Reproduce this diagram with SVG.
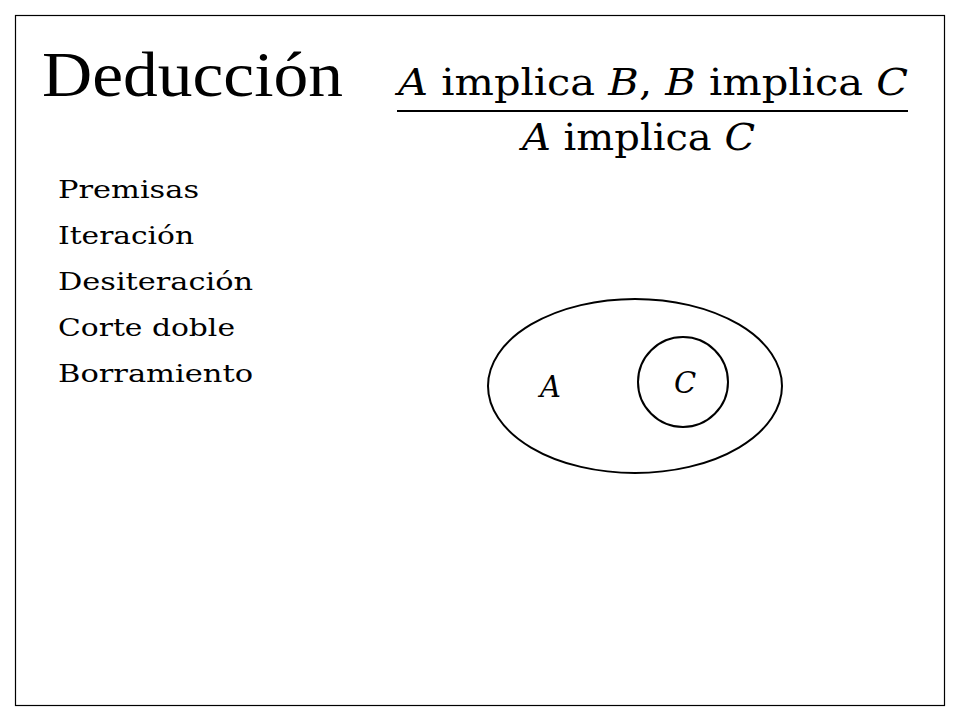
<svg xmlns="http://www.w3.org/2000/svg" width="960" height="720" viewBox="0 0 960 720">
<style>
text{font-family:"DejaVu Serif","Liberation Serif",serif;fill:#000}
.it{font-style:italic}
.list{font-size:24px}
.shape{fill:none;stroke:#000;stroke-width:2}
</style>
<rect x="0" y="0" width="960" height="720" fill="#fff"/>
<rect x="15.5" y="15.5" width="929" height="690" fill="none" stroke="#000" stroke-width="1.2"/>
<g id="title">
<text x="42" y="96" font-size="64" textLength="301" lengthAdjust="spacingAndGlyphs" style="font-family:'Liberation Serif','DejaVu Serif',serif">Deducción</text>
</g>
<g id="rule">
<text x="398" y="95" font-size="37" textLength="510" lengthAdjust="spacingAndGlyphs"><tspan class="it">A</tspan> implica <tspan class="it">B</tspan>, <tspan class="it">B</tspan> implica <tspan class="it">C</tspan></text>
<line x1="397" y1="111" x2="908" y2="111" stroke="#000" stroke-width="2"/>
<text x="522" y="150" font-size="37" textLength="233" lengthAdjust="spacingAndGlyphs"><tspan class="it">A</tspan> implica <tspan class="it">C</tspan></text>
</g>
<g id="list" class="list">
<text x="58" y="198" textLength="141" lengthAdjust="spacingAndGlyphs">Premisas</text>
<text x="58" y="244" textLength="136" lengthAdjust="spacingAndGlyphs">Iteración</text>
<text x="58" y="290" textLength="195" lengthAdjust="spacingAndGlyphs">Desiteración</text>
<text x="58" y="336" textLength="177" lengthAdjust="spacingAndGlyphs">Corte doble</text>
<text x="58" y="382" textLength="195" lengthAdjust="spacingAndGlyphs">Borramiento</text>
</g>
<g id="nodeA">
<ellipse class="shape" cx="635" cy="386" rx="147" ry="87"/>
<text class="it" x="540" y="397" font-size="29">A</text>
</g>
<g id="nodeC">
<circle class="shape" cx="683" cy="382" r="45"/>
<text class="it" x="674" y="393" font-size="29">C</text>
</g>
<g id="connectors"></g>
</svg>
